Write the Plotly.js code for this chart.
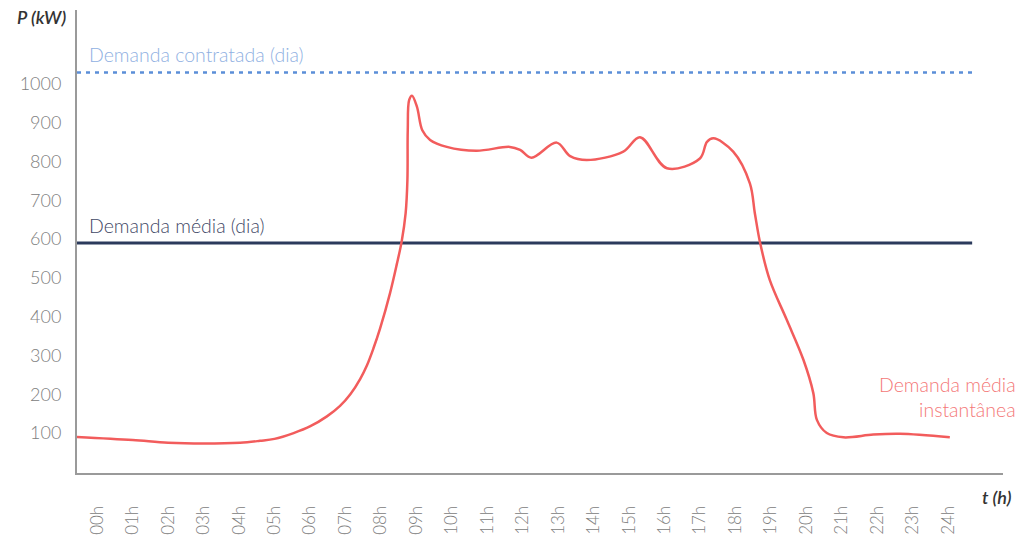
<!DOCTYPE html>
<html>
<head>
<meta charset="utf-8">
<script src="https://cdn.plot.ly/plotly-3.0.1.min.js"></script>
<style>html,body{margin:0;padding:0;background:#fff}#chart{width:1021px;height:540px}</style>
</head>
<body>
<div id="chart"></div>
<script>
// Data (hours, kW)
const hours = [-0.57, 1.0, 2.0, 3.0, 4.03, 4.59, 5.0, 5.54, 6.0, 6.48, 6.85, 7.14, 7.42, 7.61, 7.79, 7.98, 8.26, 8.45, 8.59, 8.70, 8.75, 8.76, 8.80, 8.88, 9.02, 9.17, 9.39, 9.86, 10.70, 11.64, 11.93, 12.25, 12.96, 13.34, 13.81, 14.84, 15.31, 16.07, 17.00, 17.20, 17.38, 17.94, 18.41, 18.55, 18.70, 18.97, 19.45, 19.92, 20.20, 20.30, 20.58, 21.05, 21.89, 22.64, 24.05];
const demandaInst = [90, 82, 75, 73, 75, 80, 85, 100, 117, 143, 170, 200, 240, 275, 318, 370, 461, 535, 595, 667, 753, 881, 959, 970, 941, 881, 856, 838, 828, 838, 830, 810, 849, 814, 804, 826, 863, 783, 808, 851, 860, 826, 744, 667, 590, 495, 392, 289, 203, 134, 100, 89, 96, 98, 89];
const refX = [-0.57, 24.68];
const demandaContratada = [1030, 1030];
const demandaMediaDia = [590, 590];
const tickHours = [0,1,2,3,4,5,6,7,8,9,10,11,12,13,14,15,16,17,18,19,20,21,22,23,24];
const tickLabels = ["00h","01h","02h","03h","04h","05h","06h","07h","08h","09h","10h","11h","12h","13h","14h","15h","16h","17h","18h","19h","20h","21h","22h","23h","24h"];
const yTicks = [100,200,300,400,500,600,700,800,900,1000];

const FONT = 'Lato, "Open Sans", sans-serif';

const traces = [
  {x: refX, y: demandaContratada, mode: 'lines', line: {color: '#5b8ed8', width: 2.5, dash: '4px,5px'}, hoverinfo: 'skip'},
  {x: refX, y: demandaMediaDia, mode: 'lines', line: {color: '#2b3a5c', width: 3}, hoverinfo: 'skip'},
  {x: hours, y: demandaInst, mode: 'lines', line: {color: '#f25c5c', width: 2.5, shape: 'spline', smoothing: 1}, hoverinfo: 'skip'}
];

const layout = {
  width: 1021, height: 540,
  margin: {l: 77, r: 18, t: 10, b: 67},
  paper_bgcolor: '#fff', plot_bgcolor: '#fff',
  showlegend: false,
  font: {family: FONT, color: '#888', weight: 300},
  xaxis: {
    range: [-0.57, 25.55], showgrid: false, zeroline: false,
    showline: true, linecolor: '#9a9a9a', linewidth: 2,
    tickmode: 'array', tickvals: tickHours, ticktext: tickLabels,
    tickangle: -90, ticks: 'outside', ticklen: 24, tickcolor: 'rgba(0,0,0,0)',
    tickfont: {family: FONT, size: 17, color: '#808080', weight: 300}
  },
  yaxis: {
    range: [-3, 1191], showgrid: false, zeroline: false,
    showline: true, linecolor: '#9a9a9a', linewidth: 2,
    tickmode: 'array', tickvals: yTicks,
    ticks: 'outside', ticklen: 10, tickcolor: 'rgba(0,0,0,0)',
    tickfont: {family: FONT, size: 18, color: '#808080', weight: 300}
  },
  annotations: [
    {xref: 'paper', yref: 'paper', x: -0.038, y: 1.0, xanchor: 'center', yanchor: 'middle', yshift: -7,
     text: '<i>P (kW)</i>', showarrow: false, font: {family: FONT, size: 18, color: '#333', weight: 600}},
    {xref: 'paper', yref: 'paper', x: 1.012, y: 0, xanchor: 'right', yanchor: 'middle', yshift: -24,
     text: '<i>t (h)</i>', showarrow: false, font: {family: FONT, size: 18, color: '#333', weight: 600}},
    {xref: 'x', yref: 'y', x: -0.3, y: 1030, xanchor: 'left', yanchor: 'bottom', yshift: 4,
     text: 'Demanda contratada (dia)', showarrow: false, font: {family: FONT, size: 19.5, color: '#8fb0e2', weight: 300}},
    {xref: 'x', yref: 'y', x: -0.3, y: 590, xanchor: 'left', yanchor: 'bottom', yshift: 4,
     text: 'Demanda média (dia)', showarrow: false, font: {family: FONT, size: 19.5, color: '#3f4866', weight: 300}},
    {xref: 'paper', yref: 'y', x: 1.016, y: 192, xanchor: 'right', yanchor: 'middle',
     text: 'Demanda média<br>instantânea', align: 'right', showarrow: false, font: {family: FONT, size: 19.5, color: '#f47878', weight: 300}}
  ]
};

Plotly.newPlot('chart', traces, layout, {staticPlot: true, displayModeBar: false});
</script>
</body>
</html>
